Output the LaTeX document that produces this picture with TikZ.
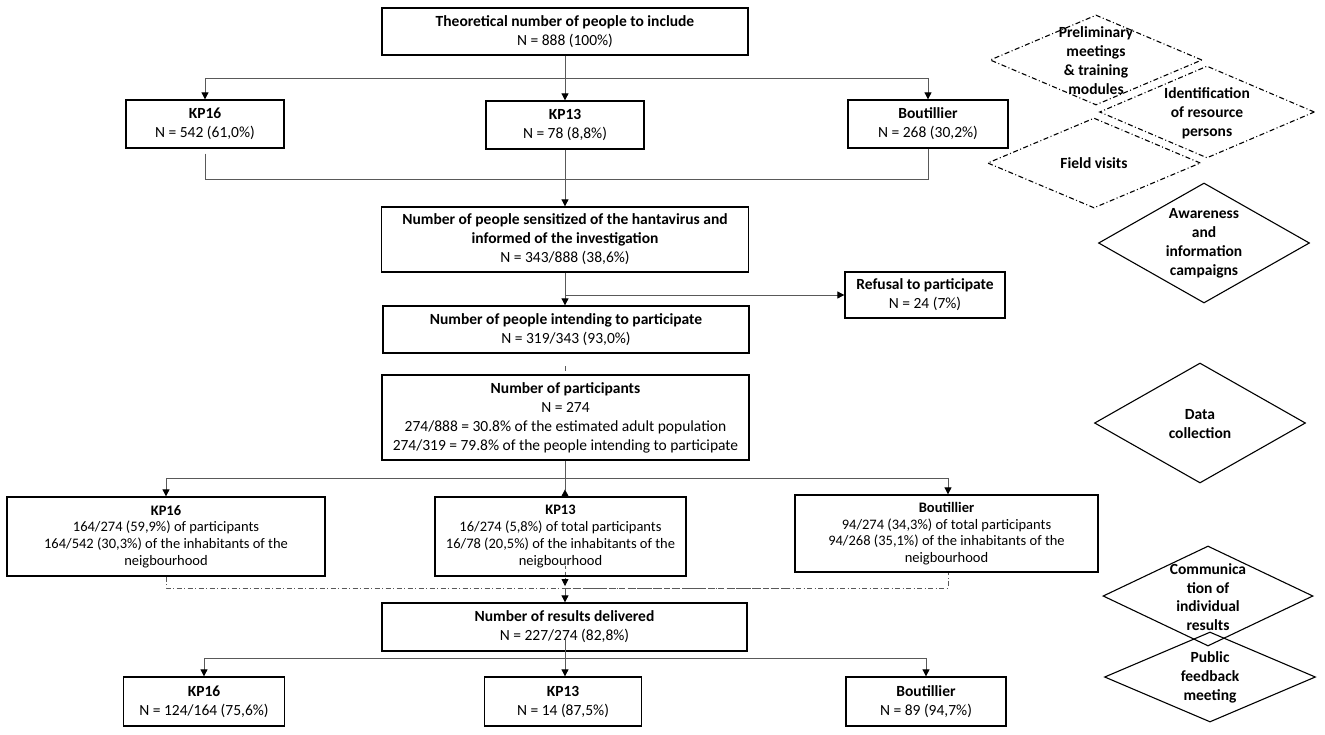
\documentclass[tikz,border=0pt]{standalone}
\usepackage{fontspec}
\setmainfont{Carlito}
\usetikzlibrary{arrows.meta,shapes.geometric,calc}
\begin{document}
\begin{tikzpicture}[x=1pt,y=-1pt,
 box/.style={draw=black,line width=1.3pt,align=center,inner sep=0pt,font=\fontsize{15.5}{19}\selectfont},
 smallbox/.style={box,font=\fontsize{14.5}{16.7}\selectfont},
 conn/.style={draw=black!65,line width=0.8pt},
 tip/.style={-{Triangle[width=7pt,length=7pt,color=black,fill=black]}},
 rtip/.style={-{Triangle[width=7pt,length=7pt,reversed,color=black,fill=black]}},
 dd/.style={dash pattern=on 5pt off 2.5pt on 1pt off 2.5pt},
 dia/.style={draw=black,line width=1.1pt,diamond,inner sep=0pt},
 dlab/.style={align=center,font=\bfseries\fontsize{15.5}{19}\selectfont,inner sep=0pt}]
\useasboundingbox[fill=white] (0,0) rectangle (1325,734);

% main boxes
\node[box,minimum width=366pt,minimum height=47pt] (top) at (565,31.5) {\textbf{Theoretical number of people to include}\\N = 888 (100\%)};
\node[box,minimum width=158pt,minimum height=48pt] (kp16a) at (205,124) {\textbf{KP16}\\N = 542 (61,0\%)};
\node[box,minimum width=158pt,minimum height=48pt] (kp13a) at (565,125) {\textbf{KP13}\\N = 78 (8,8\%)};
\node[box,minimum width=160pt,minimum height=48pt] (boutA) at (928,124) {\textbf{Boutillier}\\N = 268 (30,2\%)};
\node[box,minimum width=367pt,minimum height=65pt] (sens) at (565,239.5) {\textbf{Number of people sensitized of the hantavirus and}\\\textbf{informed of the investigation}\\N = 343/888 (38,6\%)};
\node[box,minimum width=160pt,minimum height=46pt] (refusal) at (925,295) {\textbf{Refusal to participate}\\N = 24 (7\%)};
\node[box,minimum width=366pt,minimum height=47pt] (intend) at (566,329.5) {\textbf{Number of people intending to participate}\\N = 319/343 (93,0\%)};
\node[box,minimum width=367pt,minimum height=85pt] (part) at (565.5,417.5) {\textbf{Number of participants}\\N = 274\\274/888 = 30.8\% of the estimated adult population\\274/319 = 79.8\% of the people intending to participate};
\node[smallbox,minimum width=318pt,minimum height=79pt] (kp16b) at (166,536.5) {\textbf{KP16}\\164/274 (59,9\%) of participants\\164/542 (30,3\%) of the inhabitants of the\\neigbourhood};
\node[smallbox,minimum width=251pt,minimum height=79pt] (kp13b) at (560.5,536.5) {\textbf{KP13}\\16/274 (5,8\%) of total participants\\16/78 (20,5\%) of the inhabitants of the\\neigbourhood};
\node[smallbox,minimum width=303pt,minimum height=77pt] (boutB) at (946.5,533.5) {\textbf{Boutillier}\\94/274 (34,3\%) of total participants\\94/268 (35,1\%) of the inhabitants of the\\neigbourhood};
\node[box,minimum width=365pt,minimum height=48pt] (results) at (564.5,627) {\textbf{Number of results delivered}\\N = 227/274 (82,8\%)};
\node[box,minimum width=161pt,minimum height=49pt] (kp16c) at (204,701.5) {\textbf{KP16}\\N = 124/164 (75,6\%)};
\node[box,minimum width=157pt,minimum height=49pt] (kp13c) at (563,701.5) {\textbf{KP13}\\N = 14 (87,5\%)};
\node[box,minimum width=160pt,minimum height=49pt] (boutC) at (926,701.5) {\textbf{Boutillier}\\N = 89 (94,7\%)};

% junctions
\coordinate (j1) at (565,78);
\coordinate (j2) at (565,179);
\coordinate (j3) at (565,295);
\coordinate (j4) at (565,478);
\coordinate (j5) at (565,588);
\coordinate (j6) at (565,658);

% connectors
\draw[conn,tip] (top.south) -- (kp13a.north);
\draw[conn,tip] (j1) -| (kp16a.north);
\draw[conn,tip] (j1) -| (boutA.north);
\draw[conn] ([yshift=-5pt]kp16a.south) |- (j2);
\draw[conn] (boutA.south) |- (j2);
\draw[conn,tip] (kp13a.south) -- (sens.north);
\draw[conn,tip] (sens.south -| j3) -- (intend.north -| j3);
\draw[conn,tip] (j3) -- (refusal.west);
\path (intend.south -| j3) -- (part.north -| j3) coordinate[pos=0.62] (t1) coordinate[pos=0.82] (t2);
\draw[conn] (t1) -- (t2);
\draw[conn] (part.south -| j4) -- (j4);
\draw[conn,tip] (j4) -| (kp16b.north);
\draw[conn,tip] (j4) -| ([xshift=1.5pt]boutB.north);
\draw[conn,rtip] (j4) -- (j4 |- kp13b.north);
% dash-dot feedback line
\draw[conn,dd] (kp16b.south) |- (j5);
\draw[conn,dd] (j5) -| ([xshift=1.5pt]boutB.south);
\draw[conn,dash pattern=on 6pt off 3pt] (j5) -- ($(j5)+(225,0)$);
\draw[conn,dashed,tip] ($(j5 |- kp13b.south)+(0,-11)$) -- ($(j5)+(0,-2)$);
\draw[conn,tip] (j5) -- (results.north -| j5);
\draw[conn,tip] ($(results.south -| j6)+(0,-13)$) -- (kp13c.north -| j6);
\draw[conn,tip] (j6) -| (kp16c.north);
\draw[conn,tip] (j6) -| (boutC.north);

% process diamonds
\node[dia,dd,minimum width=212pt,minimum height=90pt] (d1) at (1096,60) {};
\node[dlab] (l1) at (1096,61) {Preliminary\\meetings\\\& training\\modules};
\node[dia,dd,minimum width=215pt,minimum height=92pt] (d2) at (1207,112) {};
\node[dlab] (l2) at (1207,113) {Identification\\of resource\\persons};
\node[dia,dd,minimum width=213pt,minimum height=90pt] (d3) at (1094,163) {};
\node[dlab] (l3) at (1094,163) {Field visits};
\node[dia,minimum width=211pt,minimum height=120pt] (d4) at (1204,243) {};
\node[dlab] (l4) at (1204,243) {Awareness\\and\\information\\campaigns};
\node[dia,minimum width=211pt,minimum height=120pt] (d5) at (1200,423) {};
\node[dlab] (l5) at (1200,424) {Data\\collection};
\node[dia,minimum width=210pt,minimum height=100pt] (d6) at (1208,596) {};
\node[dlab,font=\bfseries\fontsize{15.5}{18.7}\selectfont] (l6) at (1208,597) {Communica\\tion of\\individual\\results};
\node[dia,minimum width=211pt,minimum height=90pt] (d7) at (1210,677) {};
\node[dlab] (l7) at (1210,677) {Public\\feedback\\meeting};
\end{tikzpicture}
\end{document}
